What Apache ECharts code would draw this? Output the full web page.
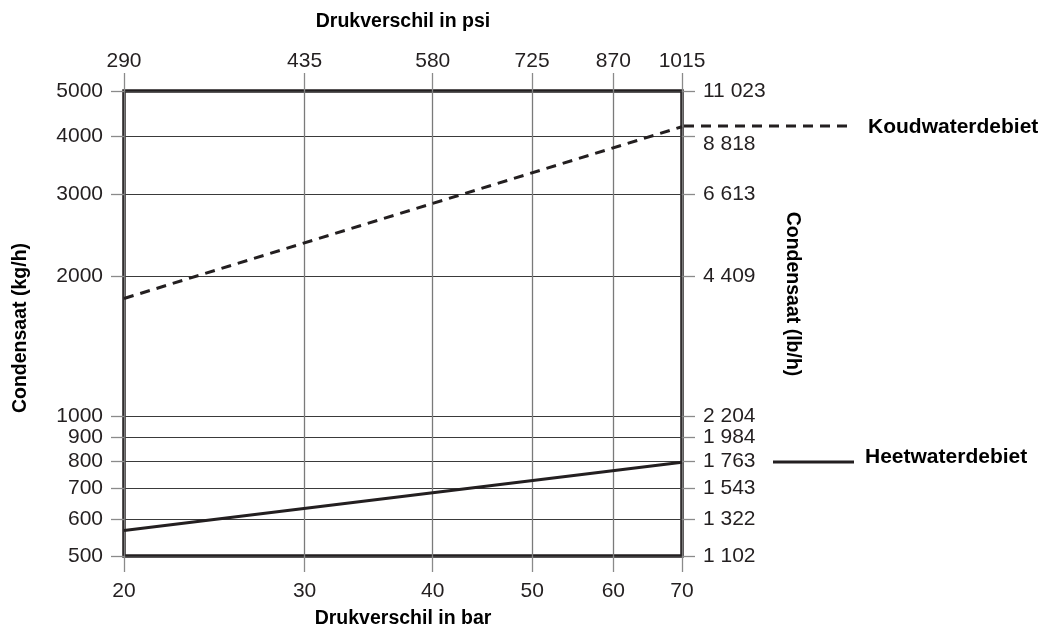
<!DOCTYPE html>
<html>
<head>
<meta charset="utf-8">
<script src="https://cdn.jsdelivr.net/npm/echarts@6/dist/echarts.min.js"></script>
<style>html,body{margin:0;padding:0;background:#fff}#c{width:1044px;height:632px}</style>
</head>
<body>
<div id="c"></div>
<script>
// Data
const barTicks = [20, 30, 40, 50, 60, 70];
const psiTicks = ['290', '435', '580', '725', '870', '1015'];
const kgTicks = [500, 600, 700, 800, 900, 1000, 2000, 3000, 4000, 5000];
const lbTicks = ['1 102', '1 322', '1 543', '1 763', '1 984', '2 204', '4 409', '6 613', '8 818', '11 023'];
const pressureBar = [20, 70];
const coldFlow = [1790, 4190];   // Koudwaterdebiet (kg/h)
const hotFlow = [567, 795];      // Heetwaterdebiet (kg/h)

const L = Math.log10;
const ink = '#231f20';
const font = '"Liberation Sans", Arial, sans-serif';
const xMin = L(20), xMax = L(70), yMin = L(500), yMax = L(5000);
const xCustom = barTicks.map(L);
const yCustom = kgTicks.map(L);
const idxOf = (arr, v) => arr.indexOf(Math.round(Math.pow(10, v)));

const chart = echarts.init(document.getElementById('c'));
const tickStyle = { color: '#8a8a8a', width: 1.3 };
const labelBase = { color: ink, fontSize: 21, fontFamily: font };

chart.setOption({
  animation: false,
  grid: { left: 124, right: 362, top: 91, bottom: 76, show: true, borderColor: ink, borderWidth: 3.5, backgroundColor: 'transparent' },
  xAxis: [
    { type: 'value', position: 'bottom', min: xMin, max: xMax,
      axisLine: { show: false },
      axisTick: { show: true, inside: false, length: 16, lineStyle: tickStyle, customValues: xCustom },
      axisLabel: Object.assign({}, labelBase, { margin: 25, customValues: xCustom,
        formatter: v => String(Math.round(Math.pow(10, v))) }),
      splitLine: { show: true, lineStyle: { color: '#7a7a7a', width: 1.3 } } },
    { type: 'value', position: 'top', min: xMin, max: xMax,
      axisLine: { show: false },
      axisTick: { show: true, inside: false, length: 18, lineStyle: tickStyle, customValues: xCustom },
      axisLabel: Object.assign({}, labelBase, { margin: 19, customValues: xCustom,
        formatter: v => psiTicks[idxOf(barTicks, v)] }),
      splitLine: { show: false } }
  ],
  yAxis: [
    { type: 'value', position: 'left', min: yMin, max: yMax,
      axisLine: { show: false },
      axisTick: { show: true, inside: false, length: 13, lineStyle: tickStyle, customValues: yCustom },
      axisLabel: Object.assign({}, labelBase, { margin: 21, customValues: yCustom,
        formatter: v => String(Math.round(Math.pow(10, v))) }),
      splitLine: { show: true, lineStyle: { color: '#3a3a3a', width: 1 } } },
    { type: 'value', position: 'right', min: yMin, max: yMax,
      axisLine: { show: false },
      axisTick: { show: true, inside: false, length: 13, lineStyle: tickStyle, customValues: yCustom },
      axisLabel: Object.assign({}, labelBase, { margin: 21, customValues: yCustom,
        formatter: v => {
          const s = lbTicks[idxOf(kgTicks, v)];
          return s === '8 818' ? '{low|' + s + '}' : s;
        },
        rich: { low: { fontSize: 21, fontFamily: font, color: ink, padding: [16, 0, 0, 0] } } }),
      splitLine: { show: false } }
  ],
  series: [
    { name: 'Koudwaterdebiet', type: 'line', xAxisIndex: 0, yAxisIndex: 0, symbol: 'none',
      data: pressureBar.map((b, i) => [L(b), L(coldFlow[i])]),
      lineStyle: { color: ink, width: 3, type: [10, 7] } },
    { name: 'Heetwaterdebiet', type: 'line', xAxisIndex: 0, yAxisIndex: 0, symbol: 'none',
      data: pressureBar.map((b, i) => [L(b), L(hotFlow[i])]),
      lineStyle: { color: ink, width: 3 } }
  ],
  graphic: [
    { type: 'text', style: { text: 'Drukverschil in psi', x: 403, y: 22, align: 'center', verticalAlign: 'middle', fill: '#000', font: 'bold 19.5px ' + font } },
    { type: 'text', style: { text: 'Drukverschil in bar', x: 403, y: 619, align: 'center', verticalAlign: 'middle', fill: '#000', font: 'bold 19.5px ' + font } },
    { type: 'text', x: 21, y: 328, rotation: Math.PI / 2, style: { text: 'Condensaat (kg/h)', x: 0, y: 0, align: 'center', verticalAlign: 'middle', fill: '#000', font: 'bold 19.5px ' + font } },
    { type: 'text', x: 792, y: 294, rotation: -Math.PI / 2, style: { text: 'Condensaat (lb/h)', x: 0, y: 0, align: 'center', verticalAlign: 'middle', fill: '#000', font: 'bold 19.5px ' + font } },
    { type: 'line', shape: { x1: 684, y1: 126, x2: 852, y2: 126 }, style: { stroke: ink, lineWidth: 3, lineDash: [10, 7] } },
    { type: 'text', style: { text: 'Koudwaterdebiet', x: 868, y: 127, align: 'left', verticalAlign: 'middle', fill: '#000', font: 'bold 21px ' + font } },
    { type: 'line', shape: { x1: 773, y1: 462, x2: 854, y2: 462 }, style: { stroke: ink, lineWidth: 3 } },
    { type: 'text', style: { text: 'Heetwaterdebiet', x: 865, y: 457, align: 'left', verticalAlign: 'middle', fill: '#000', font: 'bold 21px ' + font } }
  ]
});
</script>
</body>
</html>
